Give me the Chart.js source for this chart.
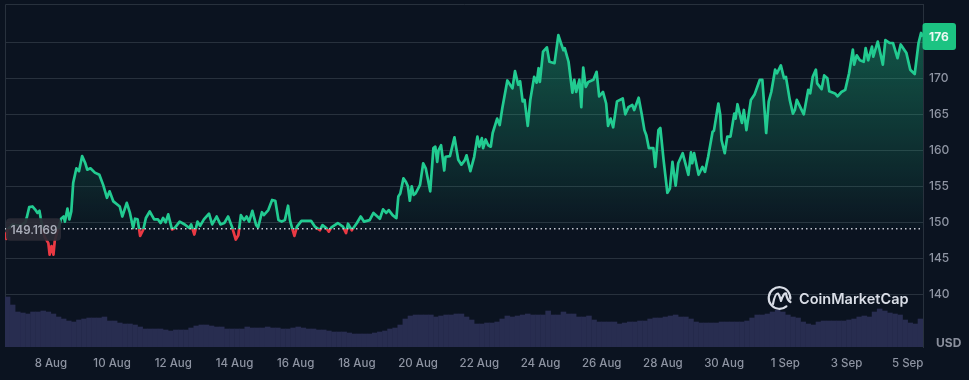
<!DOCTYPE html>
<html>
<head>
<meta charset="utf-8">
<style>
  html, body { margin: 0; padding: 0; background: #0b1320; }
  canvas { display: block; }
</style>
<script src="https://cdn.jsdelivr.net/npm/chart.js@4"></script>
</head>
<body>
<canvas id="graphCanvas" width="969" height="380"></canvas>
<script>
// hours since 6 Aug 12:00
var hours = [
  0,1,2,6,12,16,17,19,21.5,23.5,
  25.5,27,28,31,34,35,36.5,38,39,41,
  43,44,46,47,49,50.5,52,53.5,56,58,
  60.5,63,64.5,67,70.5,74,77,80,82,85,
  90,92,95.5,98,100.5,102,104,106,108.5,110.5,
  113.5,117,120,122,124,126,128,131,133,137,
  141,144.5,146,148.5,151,153,156,160,162.5,166,
  169,172,175,178,181,183,185,187.5,189.5,191.5,
  194,197,198.5,201.5,203,206.5,209.5,212,214.5,217,
  219.5,222,223.5,225.5,227,229,232.5,240,243,247,
  249,252,254,256,261,265,267.5,269,272,276,
  279,281.5,286,289,294,296.5,299,301,304,306,
  307,308.5,310,312.5,314.5,316,317.5,319,320.5,322,
  325.5,328,330,333.5,336,337.5,339,340,342,344.5,
  345.5,349,352.5,355.5,358,360.5,362,365,368,370.5,
  372,374,375,377,379,381,382.5,386,388,390,
  394,398,400,402.5,404,406,407.5,410,412,415,
  417,418.5,419.5,422,425,427,431,434,436,438,
  439,442,445,446.5,448,450.5,452,453.5,455.5,457.5,
  461.5,464,466,469,471.5,473,475,477,480,484.5,
  486.5,489,492,493.5,497,499.5,501.5,503,505,508.5,
  510,512.5,514,516.5,519.5,521.5,523.5,526,528,531.5,
  536,538,539,540.5,544,547,549,551.5,555,556,
  559.5,561,562,564.5,566.5,569,572,573,574.5,578,
  579.5,581.5,585,588,592,594,597,599,601,604,
  605.5,608.5,611,612.5,615.5,618,619.5,621,626.5,630,
  631.5,633.5,636,637,640.5,642.5,645,646.5,651,653,
  656,659,662,665,666,668,670.5,673.5,675,677,
  680,681,684.5,688.5,690.5,694,696.5,700,702.5,707,
  710,713.5,716.5,718.5,720
];
var prices = [
  148.6,147.7,149,149.7,149.5,150,150.6,152.1,152.2,151.8,
  151.3,151.6,150.6,148,147.1,145.5,146.7,145.5,147.4,148.7,
  149.9,150.5,150.8,150.1,151.9,150.4,151.5,155.5,157.5,157.1,
  159.2,158.2,157.3,157.5,156.9,156.6,155.2,153.4,154.3,152.9,
  152.2,150.8,152.7,151.3,149.2,150.5,150.4,148.1,149,150.6,
  151.5,150.4,150.4,149.9,150.6,150,151.1,149,149.2,150.1,
  149.7,149.2,149.7,148.3,150.1,149.5,150.4,151.2,149.7,150.8,
  149.7,149.9,150.8,149.4,147.6,148.2,151,150.3,150.8,150.1,
  151.6,149.6,149.3,151.4,151,151.7,153.1,153,150.3,150.1,
  150.3,152.3,150.3,149,148.1,149.4,150.2,150.2,149.4,148.9,
  149.6,149.2,148.7,149.3,149.9,149.4,148.5,149.8,148.9,149.9,
  150.8,150.1,150.3,151.3,150.5,151.8,151.3,151.7,151,150.7,
  150.6,153.6,154,156.1,155.6,155,153,155,153.8,154,
  155.2,158.2,157.5,154.3,160.3,160.5,158.4,160,160.7,157.2,
  159.1,159.2,161.8,158.7,158,158.6,159.3,157.1,159.1,161.9,
  160.5,161.7,160.3,161.5,160.7,160.5,162.4,164.4,163.5,165.8,
  169.7,168.6,171,169.1,169.6,166.8,167,163.4,167,170.2,
  169.4,171.4,169.5,173.7,174.3,172.3,172.1,176,174.9,173.9,
  174.2,172.3,168,169.8,168.1,169.8,166,171.5,168.8,169.5,
  169.8,170.9,167.5,168.1,166.5,163.4,164.4,163.2,166.8,167.2,
  165,166,166.3,165.6,167.3,164.9,162.8,162.1,160.3,160.3,
  157.7,162.8,163.1,158.7,154.1,154.7,158.4,155.1,158.2,159.6,
  156.6,159.7,158.2,159.6,156.6,157.7,157,159.1,162.6,162.7,
  166.5,164.9,161.4,159.6,161.9,161.9,165.1,164.4,166.4,163.8,
  165.6,162.8,167,167.8,169.8,169.8,162.4,166.8,168.1,171.2,
  170.7,171.8,170,170.2,167,165.1,165.6,167,165,168.4,
  167.9,170.2,171.2,169.3,168.5,170.4,170,168.2,167.9,167.5,
  168.1,168.4,170.7,174,171.9,173.2,172.5,172.3,174.2,172.5,
  174.4,173,175.1,171.9,175.3,174.9,174.9,172.8,174.7,173.5,
  171.2,170.6,174.9,176.3,175.8
];
// one bar every 4 hours
var volumes = [
  5.0,4.2,3.5,3.4,3.3,3.5,3.5,3.6,3.5,3.3,3.0,2.8,2.6,2.5,2.7,
  2.8,2.9,2.9,2.9,3.0,2.6,2.6,2.4,2.3,2.3,2.2,2.0,1.8,1.8,1.8,
  1.8,1.7,1.6,1.7,1.7,1.7,1.9,2.1,2.2,2.2,2.1,2.0,2.0,1.8,1.8,
  1.8,1.8,2.0,1.9,1.9,1.9,2.0,1.9,1.9,1.8,1.8,1.9,2.0,1.9,1.8,
  1.8,1.7,1.7,1.6,1.5,1.5,1.5,1.4,1.3,1.3,1.3,1.3,1.4,1.5,1.6,
  1.8,1.9,2.2,2.8,3.1,3.2,3.2,3.2,3.2,3.0,3.1,3.2,3.2,3.3,3.3,
  3.0,2.7,2.3,2.3,2.4,2.4,2.5,2.8,3.1,3.0,3.1,3.2,3.3,3.2,3.2,
  3.2,3.6,3.2,3.2,3.5,3.3,3.3,3.0,3.0,3.1,2.7,2.5,2.5,2.5,2.5,
  2.3,2.4,2.5,2.5,2.6,2.6,2.8,2.9,2.9,3.0,3.1,3.2,3.0,3.0,2.8,
  2.5,2.4,2.4,2.4,2.4,2.5,2.5,2.5,2.5,2.5,2.6,2.9,3.2,3.2,3.3,
  3.5,3.7,3.5,3.2,3.0,2.9,2.5,2.3,2.2,2.5,2.6,2.6,2.6,2.6,2.6,
  2.7,2.8,3.0,3.1,3.0,3.5,3.8,3.6,3.4,3.3,3.2,2.7,2.4,2.3,2.8
];
var volumeStep = 4;

var dateHours = [36,84,132,180,228,276,324,372,420,468,516,564,612,660,708];
var dateLabels = ['8 Aug','10 Aug','12 Aug','14 Aug','16 Aug','18 Aug','20 Aug','22 Aug','24 Aug','26 Aug','28 Aug','30 Aug','1 Sep','3 Sep','5 Sep'];
var priceTicks = [140,145,150,155,160,165,170,175];
var basePrice = 149.1169;
var lastPrice = '176';

var gridColor = '#28313d';
var tickColor = '#8e94a2';
var green = '#22cb91';
var red = '#ea3943';
var fontName = 'Inter, "Noto Sans", sans-serif';

function lineColor(context) {
    var chart = context.chart;
    var area = chart.chartArea;
    if (!area) return green;
    var stop = (chart.scales.y.getPixelForValue(basePrice) - area.top) / (area.bottom - area.top);
    var g = chart.ctx.createLinearGradient(0, area.top, 0, area.bottom);
    g.addColorStop(0, green);
    g.addColorStop(stop, green);
    g.addColorStop(stop, red);
    g.addColorStop(1, red);
    return g;
}

function fillColor(context) {
    var chart = context.chart;
    var area = chart.chartArea;
    if (!area) return 'transparent';
    var g = chart.ctx.createLinearGradient(0, chart.scales.y.getPixelForValue(176), 0, chart.scales.y.getPixelForValue(basePrice));
    g.addColorStop(0, 'rgba(31,201,140,0.36)');
    g.addColorStop(1, 'rgba(31,201,140,0.02)');
    return g;
}

var pricePoints = hours.map(function(h, i) { return { x: h, y: prices[i] }; });
var volumePoints = volumes.map(function(v, i) { return { x: (i + 0.5) * volumeStep, y: v }; });

// frame, value labels and the logo
var extras = {
    id: 'extras',
    beforeDatasetsDraw: function(chart) {
        var c = chart.ctx, a = chart.chartArea;
        c.save();
        c.strokeStyle = gridColor;
        c.lineWidth = 1;
        c.beginPath();
        c.moveTo(a.left + 0.5, a.bottom);
        c.lineTo(a.left + 0.5, a.top + 0.5);
        c.lineTo(a.right, a.top + 0.5);
        c.stroke();
        c.restore();
    },
    afterDraw: function(chart) {
        var c = chart.ctx, a = chart.chartArea;
        var baseY = chart.scales.y.getPixelForValue(basePrice);
        c.save();

        // start price box
        c.fillStyle = 'rgba(43,43,54,0.93)';
        c.beginPath();
        c.roundRect(6, baseY - 10.5, 55, 22.5, 4);
        c.fill();
        c.fillStyle = '#a9adb9';
        c.font = '600 11.5px ' + fontName;
        c.textAlign = 'center';
        c.textBaseline = 'middle';
        c.fillText(basePrice.toFixed(4), 34, baseY + 1.5);

        // last price badge
        var lastY = chart.scales.y.getPixelForValue(175.8);
        c.fillStyle = '#1cc382';
        c.beginPath();
        c.roundRect(a.right - 0.5, lastY - 13.5, 33.5, 27, 3);
        c.fill();
        c.fillStyle = '#eef8f4';
        c.font = '700 12px ' + fontName;
        c.fillText(lastPrice, a.right + 16, lastY + 0.5);

        // currency
        c.fillStyle = '#8b909d';
        c.font = '700 12px ' + fontName;
        c.textAlign = 'left';
        c.fillText('USD', 936, 343);

        // logo
        c.strokeStyle = '#d9dde6';
        c.lineWidth = 2.2;
        c.lineJoin = 'round';
        c.lineCap = 'round';
        c.beginPath();
        c.arc(779.5, 298, 10.8, 0.28 * Math.PI, 2.02 * Math.PI);
        c.stroke();
        c.beginPath();
        c.moveTo(773, 304);
        c.quadraticCurveTo(775, 293, 778, 293.5);
        c.quadraticCurveTo(779.5, 295, 781, 301);
        c.quadraticCurveTo(784, 292, 786, 293.5);
        c.quadraticCurveTo(787, 300, 790.5, 302);
        c.stroke();
        c.fillStyle = '#d9dde6';
        c.font = '600 14.5px ' + fontName;
        c.textAlign = 'left';
        c.fillText('CoinMarketCap', 799, 299.5);
        c.restore();
    }
};

var graphTarget = document.getElementById('graphCanvas');

var areaChart = new Chart(graphTarget, {
    data: {
        datasets: [{
            type: 'line',
            data: [{ x: 0, y: basePrice }, { x: 720, y: basePrice }],
            borderColor: '#c4c8d1',
            borderWidth: 1.5,
            borderDash: [1.5, 3],
            pointRadius: 0,
            fill: false,
            order: 0
        }, {
            type: 'line',
            data: pricePoints,
            borderColor: lineColor,
            backgroundColor: fillColor,
            borderWidth: 2.7,
            borderJoinStyle: 'round',
            tension: 0,
            pointRadius: 0,
            fill: { target: { value: basePrice }, below: 'rgba(0,0,0,0)' },
            order: 1
        }, {
            type: 'bar',
            data: volumePoints,
            yAxisID: 'yVolume',
            backgroundColor: '#282d50',
            borderWidth: 0,
            barThickness: 4.9,
            order: 2
        }]
    },
    options: {
        responsive: false,
        animation: false,
        layout: { autoPadding: false, padding: { left: 5, top: 4 } },
        plugins: { legend: { display: false }, tooltip: { enabled: false } },
        scales: {
            x: {
                type: 'linear',
                offset: false,
                min: 0,
                max: 720,
                grid: { display: false },
                border: { display: false },
                afterBuildTicks: function(axis) {
                    axis.ticks = dateHours.map(function(h) { return { value: h }; });
                },
                afterFit: function(axis) { axis.height = 33; },
                ticks: {
                    autoSkip: false,
                    maxRotation: 0,
                    padding: 2,
                    color: tickColor,
                    font: { family: fontName, size: 11.5, weight: '500' },
                    callback: function(value) { return dateLabels[dateHours.indexOf(value)]; }
                }
            },
            y: {
                position: 'right',
                min: 132.68,
                max: 180.32,
                grid: { color: gridColor, lineWidth: 1, drawTicks: false },
                border: { color: gridColor },
                afterBuildTicks: function(axis) {
                    axis.ticks = priceTicks.map(function(v) { return { value: v }; });
                },
                afterFit: function(axis) {
                    axis.width = 46;
                    axis.paddingTop = 0;
                    axis.paddingBottom = 0;
                },
                ticks: {
                    padding: 6,
                    color: tickColor,
                    font: { family: fontName, size: 12, weight: '500' },
                    callback: function(value) { return value; }
                }
            },
            yVolume: {
                display: false,
                min: 0,
                max: 34.3
            }
        }
    },
    plugins: [extras]
});
</script>
</body>
</html>
